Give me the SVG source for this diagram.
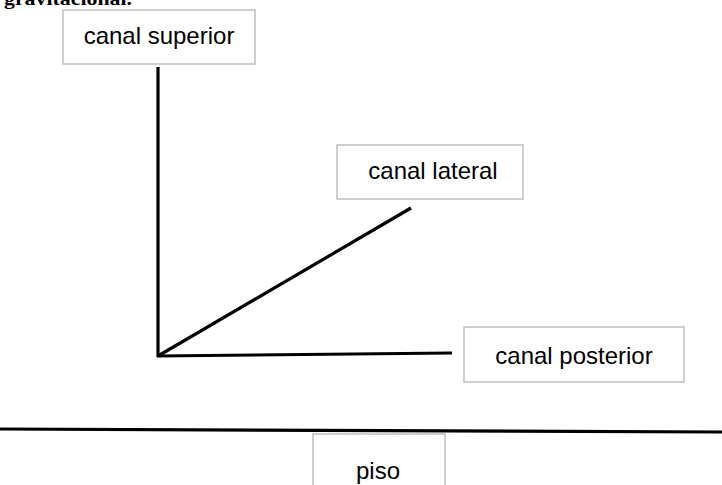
<svg xmlns="http://www.w3.org/2000/svg" width="722" height="485" viewBox="0 0 722 485">
<style>
.box{fill:#ffffff;stroke:#bfbfbf;stroke-width:1.5}
.lbl{font-family:"Liberation Sans",Arial,sans-serif;font-size:24px;fill:#000000;text-anchor:middle}
.ln{stroke:#000000;stroke-width:3.2;fill:none;stroke-linecap:butt}
</style>
<rect width="722" height="485" fill="#ffffff"/>
<text x="4" y="5" font-family="Liberation Serif, serif" font-weight="bold" font-size="19" textLength="128" lengthAdjust="spacingAndGlyphs">gravitacional.</text>
<g id="connectors">
<line class="ln" x1="158" y1="67" x2="158" y2="357"/>
<line class="ln" x1="158" y1="356" x2="411" y2="208"/>
<line class="ln" x1="157" y1="356" x2="452" y2="353"/>
<line class="ln" x1="0" y1="429" x2="722" y2="432"/>
</g>
<g id="canal-superior">
<rect class="box" x="63" y="10" width="192" height="54"/>
<text class="lbl" x="159" y="44">canal superior</text>
</g>
<g id="canal-lateral">
<rect class="box" x="337" y="145" width="186" height="54"/>
<text class="lbl" x="433" y="179">canal lateral</text>
</g>
<g id="canal-posterior">
<rect class="box" x="464" y="327" width="220" height="55"/>
<text class="lbl" x="574" y="364">canal posterior</text>
</g>
<g id="piso">
<rect class="box" x="313" y="434" width="132" height="60"/>
<text class="lbl" x="378" y="479">piso</text>
</g>
</svg>
